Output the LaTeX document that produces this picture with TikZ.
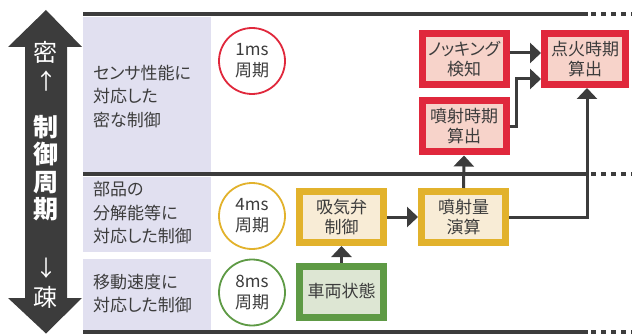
\documentclass[tikz,border=0pt]{standalone}
\usepackage{fontspec}
\newfontfamily\jp[RawFeature=+palt]{Noto Sans CJK JP}
\usetikzlibrary{arrows.meta}
\definecolor{ink}{HTML}{3C3C3C}
\definecolor{lav}{HTML}{E1E0F0}
\definecolor{cred}{HTML}{E0283C}
\definecolor{cpink}{HTML}{F7D3CA}
\definecolor{cyel}{HTML}{E2B22C}
\definecolor{ccream}{HTML}{F8ECD6}
\definecolor{cgrn}{HTML}{5E9A45}
\definecolor{clgrn}{HTML}{DDE6D3}
\tikzset{
  box/.style={draw, line width=7pt, minimum width=84pt, minimum height=51pt, inner sep=0pt, align=center, text=ink, font=\jp\fontsize{17}{20}\selectfont},
  redbox/.style={box, draw=cred, fill=cpink},
  yelbox/.style={box, draw=cyel, fill=ccream},
  grnbox/.style={box, draw=cgrn, fill=clgrn},
  circ/.style={circle, draw, line width=1.8pt, minimum size=66pt, fill=white, align=center, inner sep=0pt, text=ink, font=\jp\fontsize{17}{21}\selectfont},
  conn/.style={draw=ink, line width=3pt, -{Triangle[width=20pt,length=11pt]}},
  band/.style={fill=lav, draw=none},
  lbl/.style={anchor=west, align=left, text=ink, inner sep=0pt, font=\jp\fontsize{17}{23.5}\selectfont},
  hline/.style={draw=ink, line width=4pt},
  hdot/.style={draw=ink, line width=4pt, dash pattern=on 5pt off 5pt},
  arrtxt/.style={text=white, inner sep=0pt, align=center}
}
\begin{document}
\begin{tikzpicture}[x=1pt,y=-1pt]
\useasboundingbox (0,0) rectangle (632,334);
% left double arrow
\fill[ink] (46,10) -- (82,47) -- (67,47) -- (67,298) -- (82,298) -- (46,333.5) -- (8,298) -- (25,298) -- (25,47) -- (8,47) -- cycle;
\node[arrtxt, font=\jp\fontsize{24}{24}\selectfont] (mitsu) at (46,52) {密};
\node[arrtxt, font=\jp\fontsize{22}{22}\selectfont] (up) at (46,81) {↑};
\node[arrtxt, font=\jp\bfseries\fontsize{25}{27.5}\selectfont] (cyc) at (46,168) {制\\御\\周\\期};
\node[arrtxt, font=\jp\fontsize{22}{22}\selectfont] (down) at (46,268) {↓};
\node[arrtxt, font=\jp\fontsize{24}{24}\selectfont] (so) at (46,297) {疎};
% bands
\path[band] (83,17) rectangle (211,172);
\path[band] (83,177) rectangle (211,252);
\path[band] (83,259) rectangle (211,330);
% horizontal lines
\draw[hline] (83,14) -- (588,14);
\draw[hdot] (591,14) -- (632,14);
\draw[hline] (83,174.5) -- (588,174.5);
\draw[hdot] (591,174.5) -- (632,174.5);
\draw[hline] (83,332) -- (588,332);
\draw[hdot] (591,332) -- (632,332);
% labels
\node[lbl] (l1) at (93,96.5) {センサ性能に\\対応した\\密な制御};
\node[lbl] (l2) at (93,213) {部品の\\分解能等に\\対応した制御};
\node[lbl] (l3) at (93,293.5) {移動速度に\\対応した制御};
% circles
\node[circ, draw=cred] (c1) at (252,61) {1ms\\周期};
\node[circ, draw=cyel] (c4) at (252,216) {4ms\\周期};
\node[circ, draw=cgrn] (c8) at (252,292.5) {8ms\\周期};
% boxes
\node[redbox] (knock) at (464,59) {ノッキング\\検知};
\node[redbox, minimum width=81pt] (ign) at (585,59) {点火時期\\算出};
\node[redbox] (injt) at (464,126.5) {噴射時期\\算出};
\node[yelbox] (valve) at (341.5,217) {吸気弁\\制御};
\node[yelbox] (injq) at (463.5,217) {噴射量\\演算};
\node[grnbox] (veh) at (341.5,291.5) {車両状態};
% connectors
\draw[conn] ([yshift=6pt]knock.east) -- ([yshift=6pt]ign.west);
\draw[conn] (injt.east) -- ++(7,0) |- ([yshift=-20pt]ign.west);
\draw[conn] (injq.north) -- (injt.south);
\draw[conn] (injq.east) -| ([xshift=2pt]ign.south);
\draw[conn] (valve.east) -- (injq.west);
\draw[conn] (veh.north) -- (valve.south);
\end{tikzpicture}
\end{document}
